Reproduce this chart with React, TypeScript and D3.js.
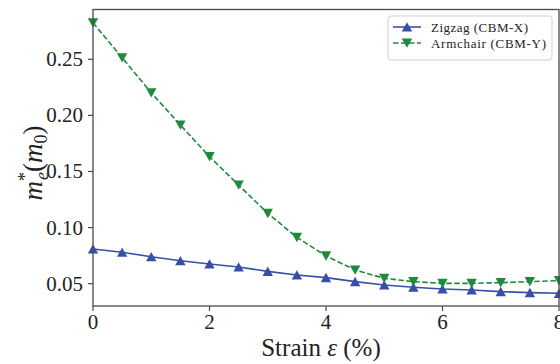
import React from "react";
import * as d3 from "d3";

const strain = [0, 0.5, 1, 1.5, 2, 2.5, 3, 3.5, 4, 4.5, 5, 5.5, 6, 6.5, 7, 7.5, 8];
const zigzag = [0.0809, 0.078, 0.074, 0.0705, 0.0676, 0.0649, 0.061, 0.0578, 0.0554, 0.0518, 0.0488, 0.0468, 0.0453, 0.0444, 0.0429, 0.042, 0.0414];
const armchair = [0.2826, 0.2514, 0.2202, 0.1914, 0.1632, 0.1379, 0.1127, 0.0913, 0.0747, 0.0622, 0.0548, 0.0518, 0.0503, 0.0503, 0.0509, 0.0518, 0.0527];
const xTicks = [0, 2, 4, 6, 8];
const yTicks = [0.05, 0.1, 0.15, 0.2, 0.25];
const seriesNames = ["Zigzag (CBM-X)", "Armchair (CBM-Y)"];

const W = 560, H = 364;
const L = 93, R = 559, T = 9.5, B = 306;
const BLUE = "#3650a8";
const GREEN = "#1f8a3c";
const AX = "#4a4a4a";
const FONT = "'Liberation Serif', 'DejaVu Serif', serif";

const up = "M0,-4.8L5.2,4.6L-5.2,4.6Z";
const down = "M0,4.8L5.2,-4.6L-5.2,-4.6Z";

export default function App() {
  const x = d3.scaleLinear().domain([0, 8]).range([L, R]);
  const y = d3.scaleLinear().domain([0.0301, 0.2944]).range([B, T]);
  const line = d3.line<number>().x((_, i) => x(strain[i])).y((d) => y(d));

  return (
    <svg width={W} height={H} style={{ position: "absolute", left: 0, top: 0 }} fontFamily={FONT}>
      <rect x={0} y={0} width={W} height={H} fill="#fff" />
      {/* data */}
      <path d={line(zigzag) || ""} fill="none" stroke={BLUE} strokeWidth={1.6} />
      <path d={line(armchair) || ""} fill="none" stroke={GREEN} strokeWidth={1.6} strokeDasharray="5.5,2.5" />
      {zigzag.map((v, i) => (
        <path key={"z" + i} d={up} transform={`translate(${x(strain[i])},${y(v)})`} fill={BLUE} />
      ))}
      {armchair.map((v, i) => (
        <path key={"a" + i} d={down} transform={`translate(${x(strain[i])},${y(v)})`} fill={GREEN} />
      ))}
      {/* frame */}
      <rect x={L} y={T} width={R - L} height={B - T} fill="none" stroke={AX} strokeWidth={1.3} />
      {/* x ticks */}
      {xTicks.map((t) => (
        <g key={"xt" + t}>
          <line x1={x(t)} x2={x(t)} y1={B} y2={B + 5} stroke={AX} strokeWidth={1.2} />
          <text x={x(t)} y={B + 23} fontSize={21} textAnchor="middle" fill="#222">{t}</text>
        </g>
      ))}
      {/* y ticks */}
      {yTicks.map((t) => (
        <g key={"yt" + t}>
          <line x1={L - 5} x2={L} y1={y(t)} y2={y(t)} stroke={AX} strokeWidth={1.2} />
          <text x={L - 10} y={y(t) + 7} fontSize={21} textAnchor="end" fill="#222">{t.toFixed(2)}</text>
        </g>
      ))}
      {/* axis labels */}
      <text x={321} y={356} fontSize={25} textAnchor="middle" fill="#222">
        Strain <tspan fontStyle="italic">ε</tspan> (%)
      </text>
      <text transform="translate(42,163) rotate(-90)" fontSize={27} textAnchor="middle" fill="#222">
        <tspan fontStyle="italic">m</tspan>
        <tspan fontSize={18} dy={-11}>*</tspan>
        <tspan fontSize={18} fontStyle="italic" dx={-8} dy={17}>e</tspan>
        <tspan dy={-6}>(</tspan>
        <tspan fontStyle="italic">m</tspan>
        <tspan fontSize={18} dy={5}>0</tspan>
        <tspan dy={-5}>)</tspan>
      </text>
      {/* legend */}
      <rect x={388} y={16} width={164} height={44} rx={3} fill="#fff" stroke="#d0d0d0" strokeWidth={1} />
      <line x1={393} x2={421} y1={27} y2={27} stroke={BLUE} strokeWidth={1.6} />
      <path d={up} transform="translate(407,27)" fill={BLUE} />
      <text x={431} y={31.5} fontSize={13} fill="#222" textLength={97}>{seriesNames[0]}</text>
      <line x1={393} x2={421} y1={43} y2={43} stroke={GREEN} strokeWidth={1.6} strokeDasharray="5.5,2.5" />
      <path d={down} transform="translate(407,43)" fill={GREEN} />
      <text x={431} y={47.5} fontSize={13} fill="#222" textLength={115}>{seriesNames[1]}</text>
    </svg>
  );
}
